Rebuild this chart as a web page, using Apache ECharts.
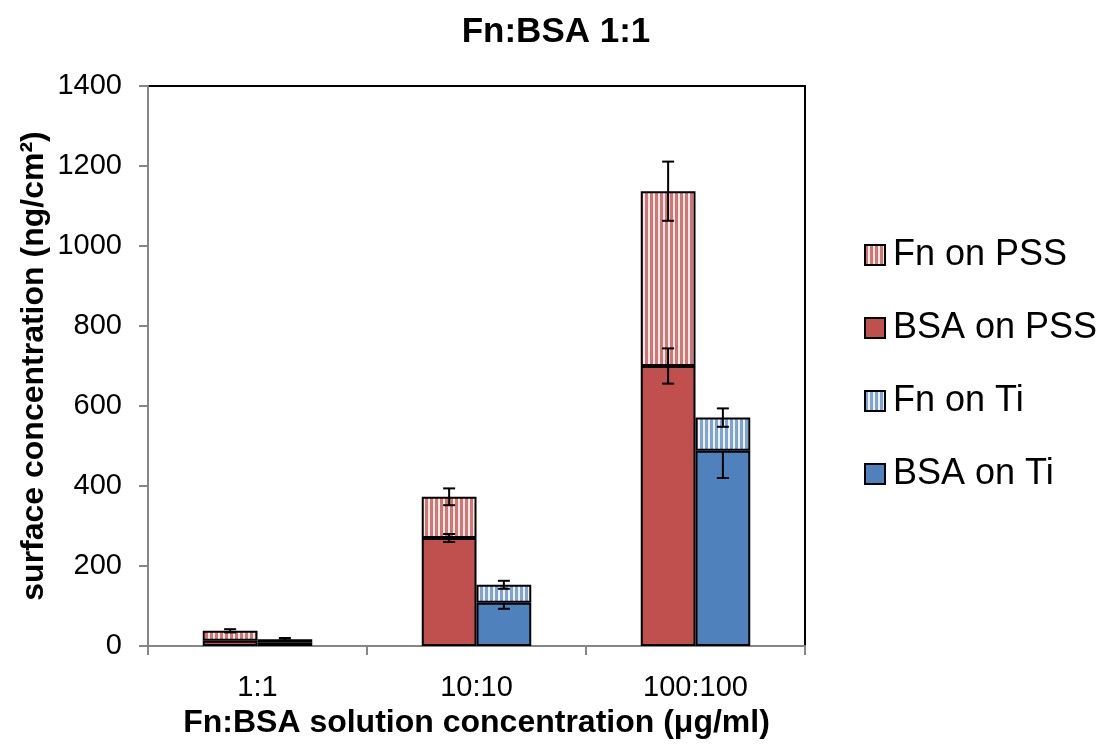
<!DOCTYPE html>
<html><head><meta charset="utf-8">
<script src="https://cdn.jsdelivr.net/npm/echarts@6/dist/echarts.min.js"></script>
<style>html,body{margin:0;padding:0;background:#fff}#c{width:1107px;height:747px}</style>
</head><body><div id="c"></div>
<script>
const categories = ['1:1', '10:10', '100:100'];
const bsaPSS = [13, 270, 700];
const fnPSS = [25, 103, 437];
const bsaTi = [8, 108, 488];
const fnTi = [9, 45, 83];
const errBsaPSSPlus = [0, 10, 44];
const errBsaPSSMinus = [0, 10, 44];
const errFnPSSPlus = [4, 21, 74];
const errFnPSSMinus = [4, 21, 74];
const errBsaTiPlus = [0, 0, 0];
const errBsaTiMinus = [0, 15, 68];
const errFnTiPlus = [3, 10, 23];
const errFnTiMinus = [3, 10, 23];
const yTicks = [0, 200, 400, 600, 800, 1000, 1200, 1400];

function stripes(color, light) {
  const cv = document.createElement('canvas');
  cv.width = 5; cv.height = 10;
  const ctx = cv.getContext('2d');
  ctx.fillStyle = light; ctx.fillRect(0, 0, 5, 10);
  ctx.fillStyle = color; ctx.fillRect(0, 0, 3, 10);
  return { image: cv, repeat: 'repeat' };
}
const RED = '#c0504d', BLUE = '#4f81bd';
const redPat = stripes('#d27674', '#fbeaea');
const bluePat = stripes('#7fa3d3', '#eef3fa');

const chart = echarts.init(document.getElementById('c'));
const font = 'Arial, "Liberation Sans", sans-serif';

function errSeries(base, vals, plus, minus, side) {
  const data = categories.map((c, i) => [i, base[i] + vals[i], plus[i], minus[i]]);
  return {
    type: 'custom', z: 10, silent: true,
    data: data,
    encode: { x: 0, y: 1 },
    renderItem: function (params, api) {
      const i = api.value(0), top = api.value(1), p = api.value(2), m = api.value(3);
      if (p === 0 && m === 0) return null;
      const band = api.size([1, 0])[0];
      const x = api.coord([i, 0])[0] + side * band * 0.125;
      const yHi = api.coord([i, top + p])[1];
      const yLo = api.coord([i, top - m])[1];
      const cap = 6;
      const st = { stroke: '#000', lineWidth: 2 };
      const ch = [{ type: 'line', shape: { x1: x, y1: yHi, x2: x, y2: yLo }, style: st }];
      if (p > 0) ch.push({ type: 'line', shape: { x1: x - cap, y1: yHi, x2: x + cap, y2: yHi }, style: st });
      if (m > 0) ch.push({ type: 'line', shape: { x1: x - cap, y1: yLo, x2: x + cap, y2: yLo }, style: st });
      return { type: 'group', children: ch };
    }
  };
}

const zeros = [0, 0, 0];
const barBase = { type: 'bar', barWidth: '25%', barGap: '0%' };
chart.setOption({
  animation: false,
  title: {
    text: 'Fn:BSA 1:1', left: 551, textAlign: 'center', top: 10,
    textStyle: { fontFamily: font, fontSize: 35, fontWeight: 'bold', color: '#000' }
  },
  legend: {
    orient: 'vertical', left: 859, top: 232, itemGap: 37,
    itemWidth: 20, itemHeight: 20, icon: 'rect',
    textStyle: { fontFamily: font, fontSize: 36, color: '#000', padding: [0, 0, 0, 3] },
    data: [
      { name: 'Fn on PSS', itemStyle: { color: redPat, borderColor: '#000', borderWidth: 2 } },
      { name: 'BSA on PSS', itemStyle: { color: RED, borderColor: '#000', borderWidth: 2 } },
      { name: 'Fn on Ti', itemStyle: { color: bluePat, borderColor: '#000', borderWidth: 2 } },
      { name: 'BSA on Ti', itemStyle: { color: BLUE, borderColor: '#000', borderWidth: 2 } }
    ]
  },
  grid: { left: 148, right: 302, top: 86, bottom: 101, show: true, borderColor: '#000', borderWidth: 2, backgroundColor: 'transparent' },
  xAxis: {
    type: 'category', data: categories,
    name: 'Fn:BSA solution concentration (\u03bcg/ml)', nameLocation: 'middle', nameGap: 61,
    nameMoveOverlap: false,
    nameTextStyle: { fontFamily: font, fontSize: 32, fontWeight: 'bold', color: '#000' },
    axisLine: { lineStyle: { color: '#868686', width: 2 } },
    axisTick: { show: true, length: 9, lineStyle: { color: '#868686', width: 2 } },
    axisLabel: { fontFamily: font, fontSize: 29, color: '#000', margin: 27 }
  },
  yAxis: {
    type: 'value', min: 0, max: 1400, interval: 200,
    name: 'surface concentration (ng/cm\u00b2)', nameLocation: 'middle', nameGap: 98,
    nameMoveOverlap: false,
    nameTextStyle: { fontFamily: font, fontSize: 32, fontWeight: 'bold', color: '#000' },
    axisLine: { show: true, lineStyle: { color: '#868686', width: 2 } },
    axisTick: { show: true, length: 9, lineStyle: { color: '#868686', width: 2 } },
    splitLine: { show: false },
    axisLabel: { fontFamily: font, fontSize: 29, color: '#000', margin: 26,
      formatter: v => yTicks.includes(v) ? String(v) : '' }
  },
  series: [
    Object.assign({}, barBase, { name: 'BSA on PSS', stack: 'pss', data: bsaPSS,
      itemStyle: { color: RED, borderColor: '#000', borderWidth: 2 } }),
    Object.assign({}, barBase, { name: 'Fn on PSS', stack: 'pss', data: fnPSS,
      itemStyle: { color: redPat, borderColor: '#000', borderWidth: 2 } }),
    Object.assign({}, barBase, { name: 'BSA on Ti', stack: 'ti', data: bsaTi,
      itemStyle: { color: BLUE, borderColor: '#000', borderWidth: 2 } }),
    Object.assign({}, barBase, { name: 'Fn on Ti', stack: 'ti', data: fnTi,
      itemStyle: { color: bluePat, borderColor: '#000', borderWidth: 2 } }),
    errSeries(zeros, bsaPSS, errBsaPSSPlus, errBsaPSSMinus, -1),
    errSeries(bsaPSS, fnPSS, errFnPSSPlus, errFnPSSMinus, -1),
    errSeries(zeros, bsaTi, errBsaTiPlus, errBsaTiMinus, 1),
    errSeries(bsaTi, fnTi, errFnTiPlus, errFnTiMinus, 1)
  ]
});
</script></body></html>
